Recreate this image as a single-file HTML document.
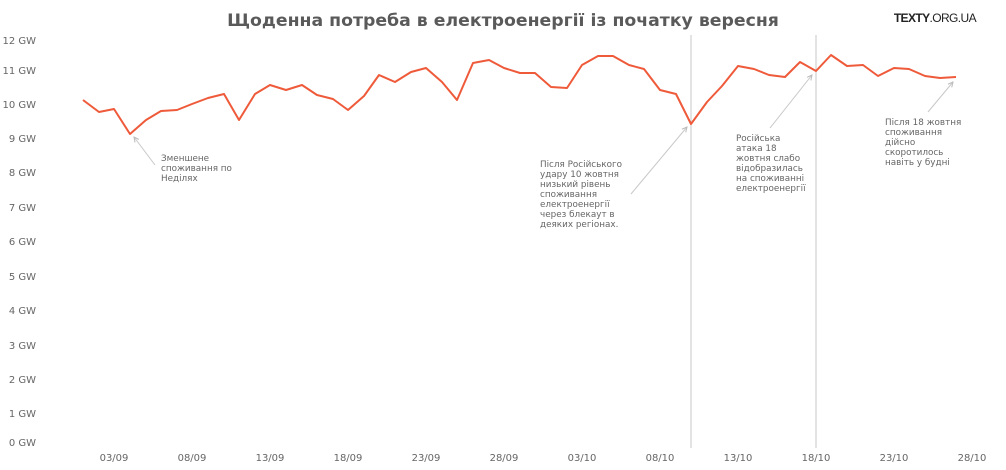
<!DOCTYPE html>
<html><head><meta charset="utf-8"><style>
html,body{margin:0;padding:0;background:#fff;}
svg{display:block;font-family:"DejaVu Sans","Liberation Sans",sans-serif;}
.t{font-size:10px;fill:#666;}
.a{font-size:8.8px;fill:#666;}
</style></head><body>
<svg width="1006" height="470" viewBox="0 0 1006 470">
<defs><marker id="ar" markerWidth="6" markerHeight="6" refX="5" refY="3" orient="auto"><path d="M0,0.5 L5,3 L0,5.5" fill="none" stroke="#bbb" stroke-width="1"/></marker></defs>
<text x="503" y="26" text-anchor="middle" font-size="17.3" font-weight="bold" fill="#5a5a5a">Щоденна потреба в електроенергії із початку вересня</text>
<text x="976" y="22" text-anchor="end" font-size="12" fill="#222" font-family="Liberation Sans" letter-spacing="-0.6"><tspan font-weight="bold">TEXTY</tspan>.ORG.UA</text>
<g class="t" text-anchor="end">
<text x="36" y="44">12 GW</text><text x="36" y="74">11 GW</text><text x="36" y="108">10 GW</text>
<text x="36" y="142">9 GW</text><text x="36" y="176">8 GW</text><text x="36" y="211">7 GW</text>
<text x="36" y="245">6 GW</text><text x="36" y="280">5 GW</text><text x="36" y="314">4 GW</text>
<text x="36" y="349">3 GW</text><text x="36" y="383">2 GW</text><text x="36" y="417">1 GW</text>
<text x="36" y="446">0 GW</text>
</g>
<g class="t" text-anchor="middle">
<text x="114" y="461">03/09</text><text x="192" y="461">08/09</text><text x="270" y="461">13/09</text>
<text x="348" y="461">18/09</text><text x="426" y="461">23/09</text><text x="504" y="461">28/09</text>
<text x="582" y="461">03/10</text><text x="660" y="461">08/10</text><text x="738" y="461">13/10</text>
<text x="816" y="461">18/10</text><text x="894" y="461">23/10</text><text x="972" y="461">28/10</text>
</g>
<line x1="691" y1="35" x2="691" y2="448" stroke="#d0d0d0" stroke-width="1.2"/>
<line x1="816" y1="35" x2="816" y2="448" stroke="#d0d0d0" stroke-width="1.2"/>
<polyline fill="none" stroke="#ee5a3a" stroke-width="2" stroke-linejoin="round" points="83,100 99,112 114,109 130,134 146,120 161,111 177,110 192,104 208,98 224,94 239,120 255,94 270,85 286,90 302,85 317,95 333,99 348,110 364,96 379,75 395,82 411,72 426,68 442,82 457,100 473,63 489,60 504,68 520,73 535,73 551,87 567,88 582,65 598,56 613,56 629,65 644,69 660,90 676,94 691,124 707,102 722,86 738,66 754,69 769,75 785,77 800,62 816,71 831,55 847,66 863,65 878,76 894,68 909,69 925,76 940,78 956,77"/>
<g stroke="#c8c8c8" stroke-width="1" fill="none">
<line x1="155" y1="165" x2="134" y2="137" marker-end="url(#ar)"/>
<line x1="631" y1="194" x2="687" y2="127" marker-end="url(#ar)"/>
<line x1="770" y1="128" x2="812" y2="75" marker-end="url(#ar)"/>
<line x1="928" y1="112" x2="953" y2="82" marker-end="url(#ar)"/>
</g>
<g class="a">
<text x="161" y="161">Зменшене</text><text x="161" y="171">споживання по</text><text x="161" y="181">Неділях</text>
<text x="540" y="167">Після Російського</text><text x="540" y="177">удару 10 жовтня</text><text x="540" y="187">низький рівень</text><text x="540" y="197">споживання</text><text x="540" y="207">електроенергії</text><text x="540" y="217">через блекаут в</text><text x="540" y="227">деяких регіонах.</text>
<text x="736" y="141">Російська</text><text x="736" y="151">атака 18</text><text x="736" y="161">жовтня слабо</text><text x="736" y="171">відобразилась</text><text x="736" y="181">на споживанні</text><text x="736" y="191">електроенергії</text>
<text x="885" y="125">Після 18 жовтня</text><text x="885" y="135">споживання</text><text x="885" y="145">дійсно</text><text x="885" y="155">скоротилось</text><text x="885" y="165">навіть у будні</text>
</g>
</svg>
</body></html>
